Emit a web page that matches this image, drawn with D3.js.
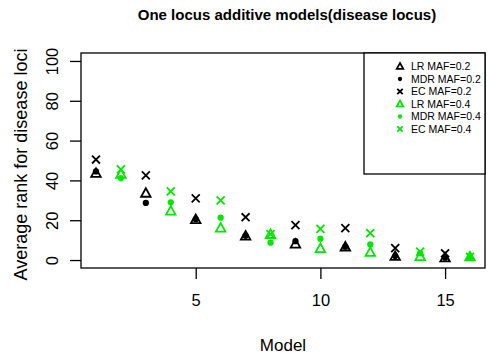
<!DOCTYPE html>
<html>
<head>
<meta charset="utf-8">
<script src="https://cdn.jsdelivr.net/npm/d3@7"></script>
<style>
  body { margin: 0; background: white; }
  text { font-family: "Liberation Sans", Arial, sans-serif; fill: black; }
</style>
</head>
<body>
<figure style="margin:0"></figure>
<script>
const oddModels = [1, 3, 5, 7, 9, 11, 13, 15],
    evenModels = [2, 4, 6, 8, 10, 12, 14, 16],
    lr02 = [43.5, 33.5, 20.3, 12, 8, 6.5, 1.8, 1],
    mdr02 = [44.5, 28.7, 20.5, 12.2, 9.5, 6.7, 2, 1.2],
    ec02 = [50.5, 42.5, 31, 21.5, 17.5, 16, 6, 3.4],
    lr04 = [43, 24.5, 16, 12.8, 5.7, 3.8, 1.7, 1.5],
    mdr04 = [41.2, 29, 21.3, 8.7, 10.7, 7.8, 3.4, 1.5],
    ec04 = [45.5, 34.5, 30, 13, 15.7, 13.5, 4.2, 1.6],
    xTicks = [5, 10, 15],
    yTicks = [0, 20, 40, 60, 80, 100],
    legendLabels = ["LR MAF=0.2", "MDR MAF=0.2", "EC MAF=0.2", "LR MAF=0.4", "MDR MAF=0.4", "EC MAF=0.4"]

const black = "#000", green = "#00e600"

const series = [
    {label: legendLabels[0], models: oddModels, values: lr02, shape: "tri", color: black},
    {label: legendLabels[1], models: oddModels, values: mdr02, shape: "dot", color: black},
    {label: legendLabels[2], models: oddModels, values: ec02, shape: "x", color: black},
    {label: legendLabels[3], models: evenModels, values: lr04, shape: "tri", color: green},
    {label: legendLabels[4], models: evenModels, values: mdr04, shape: "dot", color: green},
    {label: legendLabels[5], models: evenModels, values: ec04, shape: "x", color: green}
]

const svg = d3.select("figure").append("svg").attr("width", 490).attr("height", 355),
    box = {left: 81, right: 485, top: 53, bottom: 268},
    x = d3.scaleLinear().domain([0.4, 16.6]).range([box.left, box.right]),
    y = d3.scaleLinear().domain([-4, 104]).range([box.bottom, box.top])

// draws one R-like point symbol at (cx, cy)
function marker(g, shape, cx, cy, color, s) {
    if (shape == "tri") {
        const h = s * 0.9
        g.append("path")
            .attr("d", `M${cx},${cy - h * 0.6}L${cx + s / 2},${cy + h * 0.4}L${cx - s / 2},${cy + h * 0.4}Z`)
            .attr("fill", "none").attr("stroke", color).attr("stroke-width", 1.8)
    } else if (shape == "dot") {
        g.append("circle").attr("cx", cx).attr("cy", cy).attr("r", s * 0.33).attr("fill", color)
    } else {
        const r = s * 0.42
        g.append("path")
            .attr("d", `M${cx - r},${cy - r}L${cx + r},${cy + r}M${cx - r},${cy + r}L${cx + r},${cy - r}`)
            .attr("stroke", color).attr("stroke-width", 1.8)
    }
}

const points = svg.append("g")
for (const s of series) {
    s.models.forEach((m, i) => marker(points, s.shape, x(m), y(s.values[i]), s.color, 9.5))
}

svg.append("rect")
    .attr("x", box.left).attr("y", box.top)
    .attr("width", box.right - box.left).attr("height", box.bottom - box.top)
    .attr("fill", "none").attr("stroke", "black").attr("stroke-width", 1.3)

const xAxis = svg.append("g").attr("transform", `translate(0,${box.bottom})`)
    .call(d3.axisBottom(x).tickValues(xTicks).tickSize(11).tickPadding(15).tickFormat(d3.format("d")))
xAxis.selectAll("text").style("font-size", "16.5px")

const yAxis = svg.append("g").attr("transform", `translate(${box.left},0)`)
    .call(d3.axisLeft(y).tickValues(yTicks).tickSize(11).tickFormat(d3.format("d")))
yAxis.selectAll("text")
    .attr("transform", "translate(-29,0) rotate(-90)")
    .attr("x", 0).attr("y", 0).attr("dy", "0.35em")
    .style("text-anchor", "middle").style("font-size", "16.5px")
svg.selectAll(".tick line").attr("stroke-width", 1.3)
svg.selectAll(".domain").remove()

svg.append("text")
    .text("One locus additive models(disease locus)")
    .attr("x", (box.left + box.right) / 2 + 4).attr("y", 20)
    .style("text-anchor", "middle").style("font-weight", "bold").style("font-size", "15px")

svg.append("text")
    .text("Model")
    .attr("x", (box.left + box.right) / 2).attr("y", 351)
    .style("text-anchor", "middle").style("font-size", "17px")

svg.append("text")
    .text("Average rank for disease loci")
    .attr("transform", `translate(27,${(box.top + box.bottom) / 2 + 4}) rotate(-90)`)
    .style("text-anchor", "middle").style("font-size", "18px")

// legend in the top right corner of the plot box
const legend = svg.append("g")
legend.append("rect")
    .attr("x", 364).attr("y", box.top).attr("width", box.right - 364).attr("height", 121)
    .attr("fill", "white").attr("stroke", "black").attr("stroke-width", 1.3)
series.forEach((s, i) => {
    const ly = 66.5 + i * 12.5
    marker(legend, s.shape, 400, ly, s.color, 6.5)
    legend.append("text").text(s.label)
        .attr("x", 411).attr("y", ly).attr("dy", "0.35em")
        .style("font-size", "10.5px")
})
</script>
</body>
</html>
